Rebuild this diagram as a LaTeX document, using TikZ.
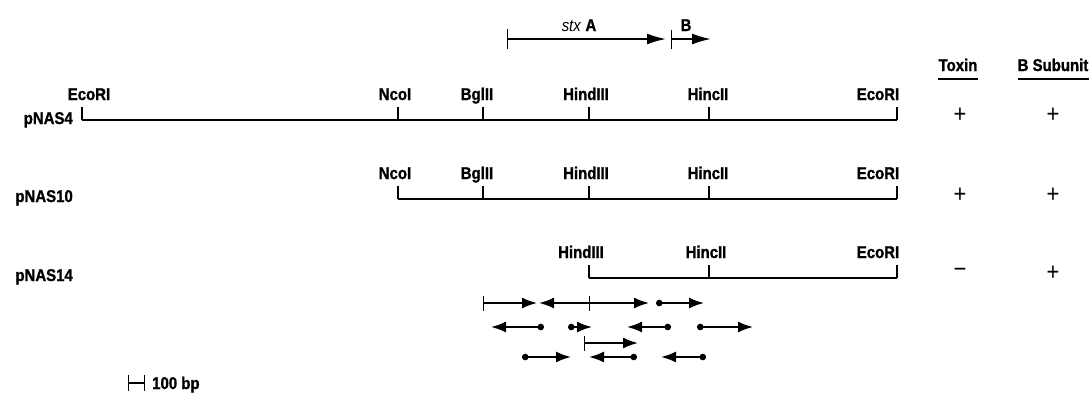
\documentclass[tikz,border=0pt]{standalone}
\usepackage{fontspec}
\setmainfont{Liberation Sans}[FakeStretch=0.88, BoldFeatures={FakeBold=1.2}]
\usetikzlibrary{arrows.meta}

\begin{document}
\begin{tikzpicture}[x=1pt, y=-1pt,
  lbl/.style={font=\fontsize{17}{17}\selectfont\bfseries, inner sep=0pt},
  sign/.style={font=\fontsize{25}{25}\selectfont, inner sep=0pt},
  mapline/.style={line width=1.8pt},
  tick/.style={line width=1.4pt},
  nf/.style={line width=1.8pt, -{Latex[length=15pt,width=11pt]}},
  bf/.style={line width=1.8pt, {Bar[width=15pt,line width=1.3pt]}-{Latex[length=15pt,width=11pt]}},
  df/.style={line width=1.8pt, {Circle[length=6.5pt]}-{Latex[length=15pt,width=11pt]}}]
  %tikz  restriction map, pNAS clones
  \useasboundingbox (0,0) rectangle (1091,392);
  \def\tk{13.5}
  % genes
  \draw[line width=1.8pt, {Bar[width=20pt,line width=1.3pt]}-{Latex[length=19pt,width=11pt]}] (507,39) -- (666,39);
  \draw[line width=1.8pt, {Bar[width=19pt,line width=1.3pt]}-{Latex[length=19pt,width=11pt]}] (671,39) -- (711,39);
  \node[lbl, anchor=base] (stxA) at (579,31) {\textit{\mdseries stx} A};
  \node[lbl, anchor=base] (stxB) at (686,31) {B};
  % pNAS4
  \node[lbl, anchor=base east] (p4) at (73,124) {pNAS4};
  \foreach \n/\x/\lx/\t in {a/82/89/EcoRI, b/398/395/NcoI, c/483/477/BglII, d/589/586/HindIII, e/709/708/HincII, f/897/878/EcoRI}{
    \coordinate (m4\n) at (\x,120);
    \draw[tick] (m4\n) -- ++(0,-\tk);
    \node[lbl, anchor=base] (s4\n) at (\lx,100) {\t};
  }
  \draw[mapline] (m4a) -- (m4f);
  % pNAS10
  \node[lbl, anchor=base east] (p10) at (73,202) {pNAS10};
  \foreach \n/\x/\lx/\t in {b/398/395/NcoI, c/483/477/BglII, d/589/586/HindIII, e/709/708/HincII, f/897/878/EcoRI}{
    \coordinate (m10\n) at (\x,199);
    \draw[tick] (m10\n) -- ++(0,-\tk);
    \node[lbl, anchor=base] (s10\n) at (\lx,179) {\t};
  }
  \draw[mapline] (m10b) -- (m10f);
  % pNAS14
  \node[lbl, anchor=base east] (p14) at (73,281) {pNAS14};
  \foreach \n/\x/\lx/\t in {d/589/581/HindIII, e/709/706/HincII, f/897/878/EcoRI}{
    \coordinate (m14\n) at (\x,278);
    \draw[tick] (m14\n) -- ++(0,-\tk);
    \node[lbl, anchor=base] (s14\n) at (\lx,258) {\t};
  }
  \draw[mapline] (m14d) -- (m14f);
  % phenotypes
  \node[lbl, anchor=base] (tox) at (958,71) {Toxin};
  \node[lbl, anchor=base] (bsub) at (1053,71) {B Subunit};
  \foreach \h in {tox,bsub}{
    \draw[line width=1.6pt] ([yshift=-8pt]\h.base west) -- ([yshift=-8pt]\h.base east);
  }
  \foreach \r/\y/\t/\b in {4/115/+/+, 10/195/+/+, 14/273/−/+}{
    \node[sign] (t\r) at (960,\y) {\t};
    \node[sign] (b\r) at (1053,\y) {\b};
  }
  % sequencing strategy
  \foreach \a/\b/\y/\k in {483/537/303/bf, 589/539/303/nf, 589/649/303/bf, 656/704/303/df,
    544/491/327/df, 568/592/327/df, 671/627/327/df, 697/753/327/df,
    584/638/343/bf,
    522/571/357/df, 637/589/357/df, 706/661/357/df}{
    \draw[\k] (\a,\y) -- (\b,\y);
  }
  % scale
  \draw[line width=1.3pt, {Bar[width=16pt]}-{Bar[width=16pt]}] (128,383) -- (145,383);
  \node[lbl, anchor=base west] (bp) at (152,389) {100 bp};
\end{tikzpicture}
\end{document}
